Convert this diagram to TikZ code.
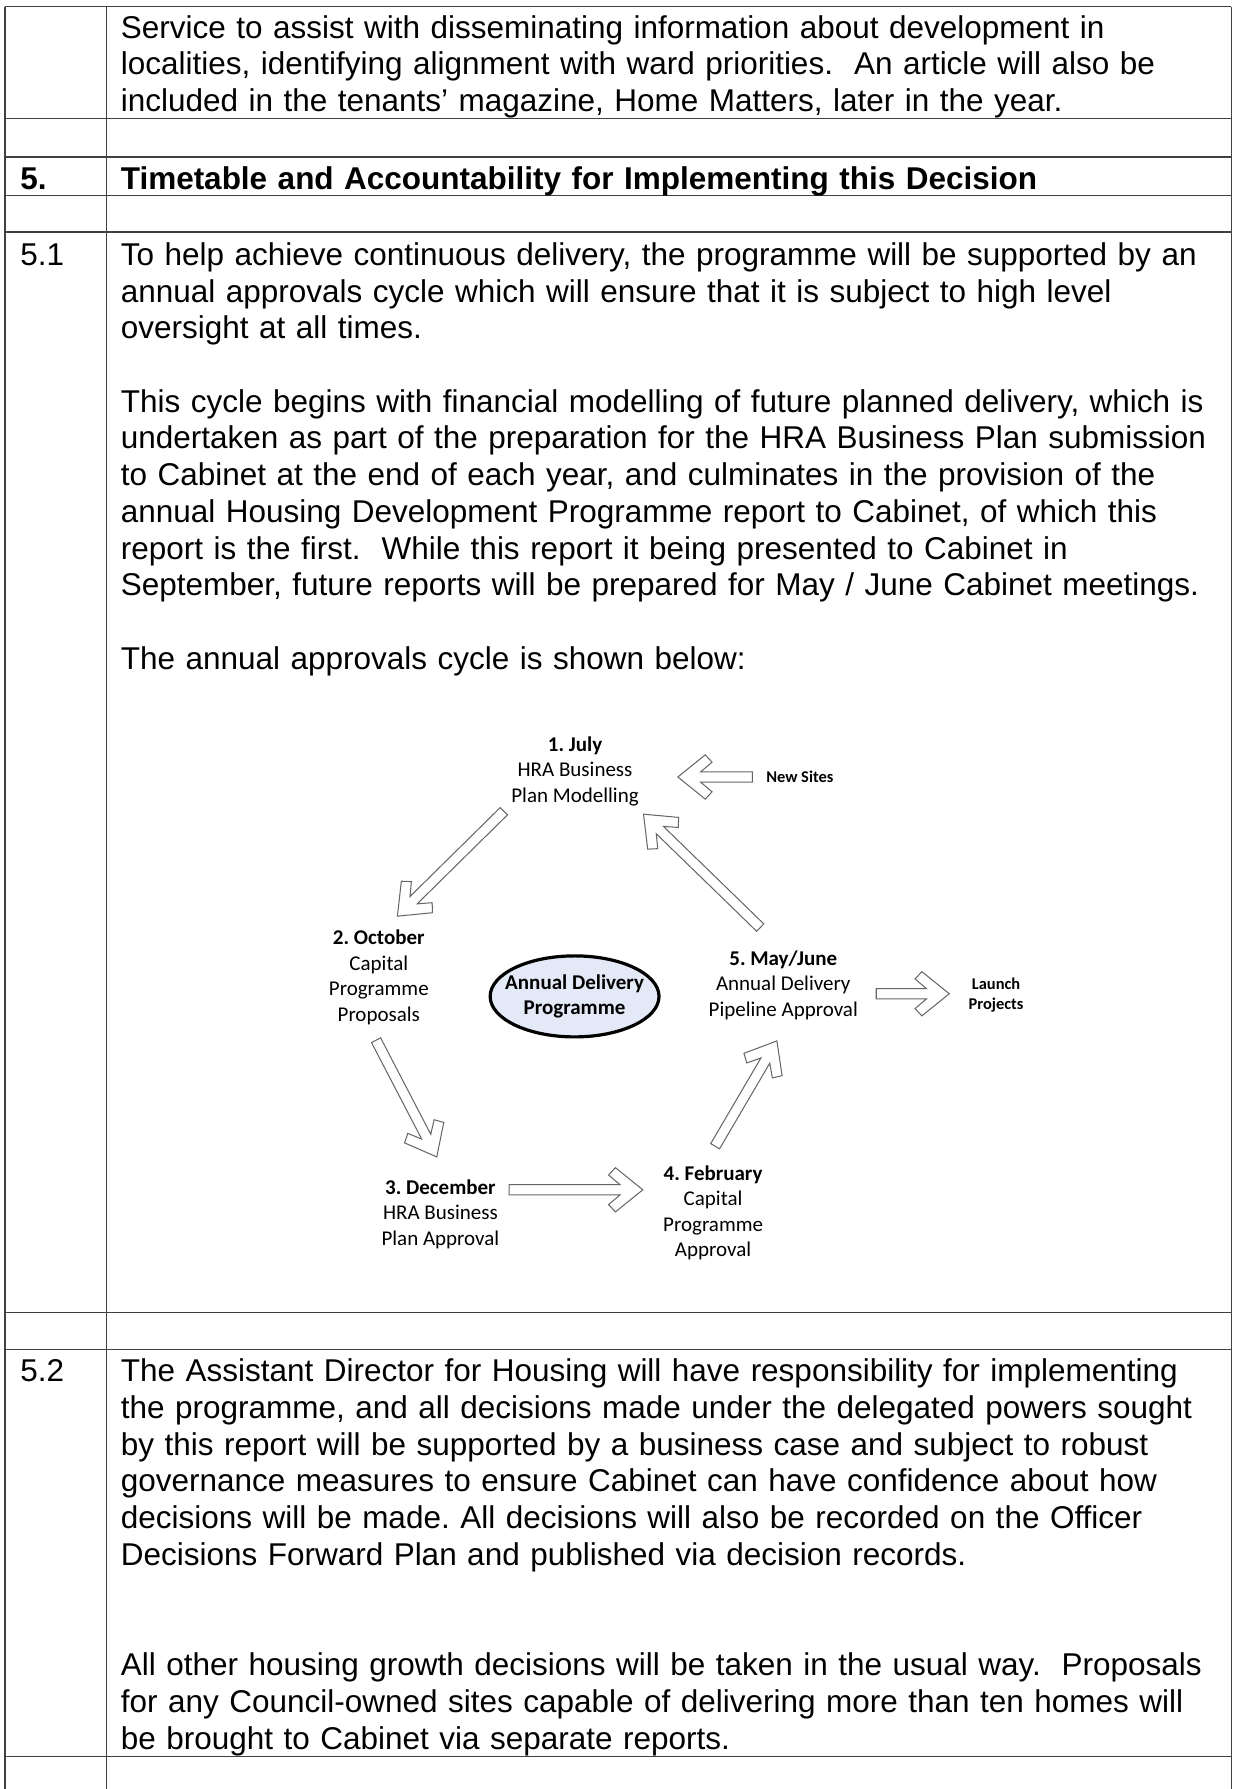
\documentclass[tikz,border=0pt]{standalone}
\usepackage{fontspec}
\setmainfont{Liberation Sans}
\newfontfamily\calibri{Carlito}
\usetikzlibrary{calc, shapes.geometric}
\frenchspacing

\definecolor{hubblue}{RGB}{227,233,246}

\newcommand{\blockarrow}[2]{%
  \draw[hollow] ($(#1)!2.25pt!90:(#2)$)
    -- ($($(#2)!10pt!(#1)$)!2.25pt!90:(#2)$)
    -- ($($(#2)!15pt!(#1)$)!6.5pt!90:(#2)$)
    -- ($($(#2)!12pt!(#1)$)!9.7pt!90:(#2)$)
    -- (#2)
    -- ($($(#2)!12pt!(#1)$)!9.7pt!-90:(#2)$)
    -- ($($(#2)!15pt!(#1)$)!6.5pt!-90:(#2)$)
    -- ($($(#2)!10pt!(#1)$)!2.25pt!-90:(#2)$)
    -- ($(#1)!2.25pt!-90:(#2)$) -- cycle;}

\begin{document}
\begin{tikzpicture}[x=0.5pt, y=-0.5pt,
    grid/.style={draw=black!75, line width=0.5pt},
    para/.style={anchor=base west, inner sep=0pt, text width=485pt, align=left, font=\fontsize{13.8}{16.1}\selectfont},
    num/.style={anchor=base west, inner sep=0pt, font=\fontsize{13.8}{16.1}\selectfont},
    stage/.style={inner sep=0pt, align=center, font=\calibri\fontsize{9.2}{11.2}\selectfont},
    side/.style={inner sep=0pt, align=center, font=\calibri\bfseries\fontsize{7.2}{9}\selectfont},
    hub/.style={ellipse, draw=black, line width=1.4pt, fill=hubblue, minimum width=74pt, minimum height=35.5pt, inner xsep=-4.5pt, inner ysep=0pt, align=center, font=\calibri\bfseries\fontsize{9.2}{11.2}\selectfont},
    hollow/.style={draw=black!60, fill=white, line width=0.45pt}
]
    \useasboundingbox (0,0) rectangle (1080,1568);

    % table rules
    \foreach \y in {6,103.5,137.6,171,203.4,1150,1182.6,1539.4}
        \draw[grid] (4.4,\y) -- (1079,\y);
    \foreach \x in {4.4,93,1079}
        \draw[grid] (\x,6) -- (\x,1568);

    \node[para] (intro) at (105.5,33.5) {Service to assist with disseminating information about development in\\localities, identifying alignment with ward priorities.~ An article will also be\\included in the tenants’ magazine, Home Matters, later in the year.};
    \node[num] (n5) at (17.5,166.5) {\textbf{5.}};
    \node[para] (title) at (105.5,166.5) {\textbf{Timetable and Accountability for Implementing this Decision}};
    \node[num] (n51) at (17.5,232.5) {5.1};
    \node[para] (p51a) at (105.5,232.5) {To help achieve continuous delivery, the programme will be supported by an\\annual approvals cycle which will ensure that it is subject to high level\\oversight at all times.};
    \node[para] (p51b) at (105.5,361.3) {This cycle begins with financial modelling of future planned delivery, which is\\undertaken as part of the preparation for the HRA Business Plan submission\\to Cabinet at the end of each year, and culminates in the provision of the\\annual Housing Development Programme report to Cabinet, of which this\\report is the first.~ While this report it being presented to Cabinet in\\September, future reports will be prepared for May / June Cabinet meetings.};
    \node[para] (p51c) at (105.5,586.7) {The annual approvals cycle is shown below:};
    \node[num] (n52) at (17.5,1211) {5.2};
    \node[para] (p52a) at (105.5,1211) {The Assistant Director for Housing will have responsibility for implementing\\the programme, and all decisions made under the delegated powers sought\\by this report will be supported by a business case and subject to robust\\governance measures to ensure Cabinet can have confidence about how\\decisions will be made. All decisions will also be recorded on the Officer\\Decisions Forward Plan and published via decision records.};
    \node[para] (p52b) at (105.5,1468.6) {All other housing growth decisions will be taken in the usual way.~ Proposals\\for any Council-owned sites capable of delivering more than ten homes will\\be brought to Cabinet via separate reports.};

    % approvals cycle
    \node[stage] (july) at (504,676) {\textbf{1. July}\\HRA Business\\Plan Modelling};
    \node[side] (newsites) at (701,681) {New Sites};
    \node[stage] (oct) at (332,856.5) {\textbf{2. October}\\Capital\\Programme\\Proposals};
    \node[hub] (hub) at (503.6,873.3) {Annual Delivery\\Programme};
    \node[stage] (may) at (686.5,863.5) {\textbf{5. May/June}\\Annual Delivery\\Pipeline Approval};
    \node[side] (launch) at (873,872) {Launch\\Projects};
    \node[stage] (dec) at (386,1064) {\textbf{3. December}\\HRA Business\\Plan Approval};
    \node[stage] (feb) at (625,1063) {\textbf{4. February}\\Capital\\Programme\\Approval};

    \coordinate (julyOut) at (441.6,711);   \coordinate (octIn) at (348.3,803);
    \coordinate (octOut) at (329.6,911.7);  \coordinate (decIn) at (382.8,1014);
    \coordinate (decOut) at (446.2,1042.8); \coordinate (febIn) at (563.4,1042.8);
    \coordinate (febOut) at (626.8,1004.6); \coordinate (mayIn) at (680.9,912.3);
    \coordinate (mayOut) at (666.3,813);    \coordinate (julyIn) at (564,713.6);
    \coordinate (sitesOut) at (659.5,681);  \coordinate (sitesIn) at (594.1,681);
    \coordinate (launchOut) at (768,871);   \coordinate (launchIn) at (832,871);

    \blockarrow{julyOut}{octIn}
    \blockarrow{octOut}{decIn}
    \blockarrow{decOut}{febIn}
    \blockarrow{febOut}{mayIn}
    \blockarrow{mayOut}{julyIn}
    \blockarrow{sitesOut}{sitesIn}
    \blockarrow{launchOut}{launchIn}
\end{tikzpicture}
\end{document}
